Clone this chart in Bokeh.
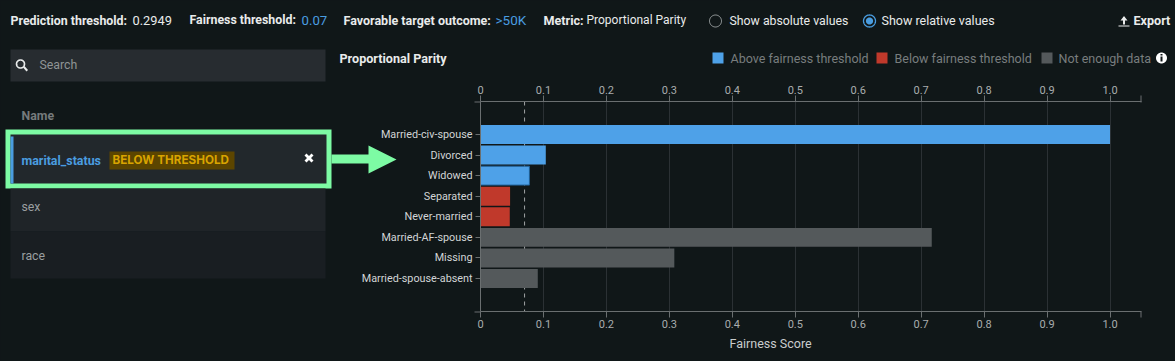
import numpy as np
from bokeh.plotting import figure
from bokeh.embed import file_html
from bokeh.resources import INLINE
from bokeh.core.properties import value
from bokeh.models import (FactorRange, Range1d, LinearAxis, CategoricalAxis, Grid,
                          Span, FixedTicker, ColumnDataSource, CategoricalColorMapper)

categories = ["Married-civ-spouse", "Divorced", "Widowed", "Separated", "Never-married",
              "Married-AF-spouse", "Missing", "Married-spouse-absent"]
scores = [1.0, 0.1037, 0.0777, 0.047, 0.0465, 0.7168, 0.3079, 0.091]
statuses = ["above", "above", "above", "below", "below", "nodata", "nodata", "nodata"]
status_names = ["above", "below", "nodata"]
status_colors = ["#4ea1e8", "#c0392b", "#54595b"]
x_ticks = [0, 0.1, 0.2, 0.3, 0.4, 0.5, 0.6, 0.7, 0.8, 0.9, 1.0]
x_tick_labels = ["0", "0.1", "0.2", "0.3", "0.4", "0.5", "0.6", "0.7", "0.8", "0.9", "1.0"]
fairness_threshold = 0.07
x_max = 1.05

BG = "#101718"
AXIS = "#6a6f70"
FONT = "Roboto"

# ---------- page furniture, drawn in pixel coordinates ----------
ui = figure(width=1175, height=361, output_backend="svg", toolbar_location=None,
            x_range=Range1d(0, 1175), y_range=Range1d(361, 0),
            x_axis_location=None, y_axis_location=None,
            min_border=0, min_border_left=0, min_border_right=0, min_border_top=0, min_border_bottom=0,
            background_fill_color=BG, border_fill_color=BG, outline_line_color=None)
ui.xgrid.visible = False
ui.ygrid.visible = False


def box(l, t, r, b, color):
    ui.quad(left=[l], right=[r], top=[t], bottom=[b], fill_color=color, line_color=None)


def poly(xs, ys, color, line=None, width=1):
    ui.patch(x=[float(v) for v in xs], y=[float(v) for v in ys], fill_color=color if color else BG,
             fill_alpha=1 if color else 0, line_color=line if line else BG, line_alpha=1 if line else 0, line_width=width)


def circle(cx, cy, r, color=None, line=None, width=1):
    a = np.linspace(0, 2 * np.pi, 48, endpoint=False)
    poly(cx + r * np.cos(a), cy + r * np.sin(a), color, line, width)


def text(x, y, s, color="#e6e8e8", size=12, bold=False, font=FONT):
    ui.text(x=[x], y=[y], text=[s], text_color=color, text_font=value(font), text_font_size=f"{size}px",
            text_font_style="bold" if bold else "normal", text_baseline="middle", text_align="left")


W, B = "#e9ebeb", "#4a9de0"
text(10, 19.5, "Prediction threshold:", W, 12.4, True)
text(132, 19.5, "0.2949", W, 12.8)
text(189, 19.5, "Fairness threshold:", W, 12.35, True)
text(301, 19.5, "0.07", B, 13.2)
text(343, 19.5, "Favorable target outcome:", W, 12.5, True)
text(495, 19.5, ">50K", B, 13.5)
text(543, 19.5, "Metric:", W, 12.6, True)
text(586, 19.5, "Proportional Parity", W, 12)
circle(715, 20.5, 6, None, "#9a9fa0", 1)
text(729, 20, "Show absolute values", W, 12.3)
circle(869, 20.5, 6, None, "#4a9de0", 1.3)
circle(869, 20.5, 3.6, "#4a9de0")
text(881, 20, "Show relative values", W, 12.5)
poly([1120, 1123.5, 1127, 1124.5, 1124.5, 1122.5, 1122.5], [20, 15.5, 20, 20, 24, 24, 20], W)
box(1118, 25, 1129, 26, W)
text(1133, 19.5, "Export", W, 12.6, True)

box(10, 49, 325, 81, "#272c30")
circle(20, 63.5, 4, None, W, 1.6)
poly([22.5, 24, 27.5, 26], [67, 65.5, 69.5, 71], W)
text(39, 64.5, "Search", "#8f9495", 12.3)

text(21, 115, "Name", "#767b7c", 12.3, True)
box(5, 129, 331, 188, "#7dfba4")
box(10, 134, 326, 183, "#22282c")
box(10, 136, 13, 183, "#4a9de0")
box(10, 188, 325, 231, "#1f2428")
box(10, 231, 325, 278, "#191e22")
text(21, 159.5, "marital_status", B, 12.4, True)
box(109, 151, 234, 169, "#5c4500")
text(112, 159.5, "BELOW THRESHOLD", "#d9a400", 11.7, True, "Inter")
poly([304, 306, 308.5, 311, 313, 310.5, 313, 311, 308.5, 306, 304, 306.5],
     [155, 153, 155.5, 153, 155, 157.5, 160, 162, 159.5, 162, 160, 157.5], "#ffffff")
text(21, 206.5, "sex", "#9a9fa0", 12.3)
text(21, 255, "race", "#9a9fa0", 12.3)

poly([331, 368, 368, 396, 368, 368, 331], [154, 154, 145, 159, 173, 163, 163], "#7dfba4")

text(339, 57.5, "Proportional Parity", W, 12.6, True)
LEG = "#787d7e"
box(712, 52, 723, 63, status_colors[0])
text(730, 57.5, "Above fairness threshold", LEG, 12.5)
box(876, 52, 887, 63, status_colors[1])
text(894, 57.5, "Below fairness threshold", LEG, 12.5)
box(1041, 52, 1052, 63, status_colors[2])
text(1058, 57.5, "Not enough data", LEG, 12.5)
circle(1161, 57.5, 5.5, "#ffffff")
box(1160, 56, 1162, 61, BG)
box(1160, 53.5, 1162, 55, BG)

text(729, 343, "Fairness Score", "#c9cccd", 12.5)

# axis end ticks
box(474, 101, 480, 102, AXIS)
box(474, 311, 480, 312, AXIS)
box(1140, 95, 1141, 102, AXIS)
box(1140, 311, 1141, 317, AXIS)

# ---------- the chart, transparent and laid over the furniture ----------
p = figure(width=1175, height=361, output_backend="svg", toolbar_location=None,
           x_range=Range1d(0, x_max),
           y_range=FactorRange(factors=categories[::-1], range_padding=1.1, range_padding_units="absolute"),
           x_axis_location=None, y_axis_location=None,
           min_border_left=480, min_border_right=34, min_border_top=101, min_border_bottom=50,
           background_fill_alpha=0, border_fill_alpha=0, outline_line_color=None,
           margin=(-361, 0, 0, 0))
p.xgrid.visible = False
p.ygrid.visible = False

ticker = FixedTicker(ticks=x_ticks)
overrides = {t: l for t, l in zip(x_ticks, x_tick_labels)}


def x_axis(**kw):
    return LinearAxis(ticker=ticker, major_label_overrides=overrides, axis_line_color=AXIS,
                      major_tick_line_color=AXIS, major_tick_in=0, major_tick_out=6, minor_tick_line_color=None,
                      major_label_text_color="#a9adae", major_label_text_font=FONT,
                      major_label_text_font_size="11px", major_label_standoff=2, **kw)


p.add_layout(x_axis(), "above")
p.add_layout(x_axis(), "below")
p.add_layout(CategoricalAxis(axis_line_color=AXIS, major_tick_line_color=AXIS, major_tick_in=0,
                             major_tick_out=5, minor_tick_line_color=None,
                             major_label_text_color="#d2d5d6", major_label_text_font=FONT,
                             major_label_text_font_size="10.8px", major_label_standoff=3), "left")

p.add_layout(Grid(dimension=0, ticker=ticker, grid_line_color="#2b3134", grid_line_width=1))
p.add_layout(Span(location=fairness_threshold, dimension="height", line_color="#a0a5a6",
                  line_dash="4 4", line_width=1, level="underlay"))

src = ColumnDataSource(dict(cat=categories, score=scores, status=statuses))
mapper = CategoricalColorMapper(factors=status_names, palette=status_colors)
p.hbar(y="cat", right="score", left=0, height=0.92, source=src,
       fill_color={"field": "status", "transform": mapper},
       line_color={"field": "status", "transform": mapper}, line_width=0)
# the one bar that carries a darker outline in the reference
outlined = categories.index("Widowed")
p.hbar(y=[categories[outlined]], right=[scores[outlined]], left=0, height=0.92,
       fill_alpha=0, line_color="#1f5f95", line_width=1)

html = file_html([ui, p], INLINE)
html = html.replace("</head>", f"<style>html,body{{background:{BG};overflow:hidden}}</style></head>", 1)
open("out.html", "w").write(html)
